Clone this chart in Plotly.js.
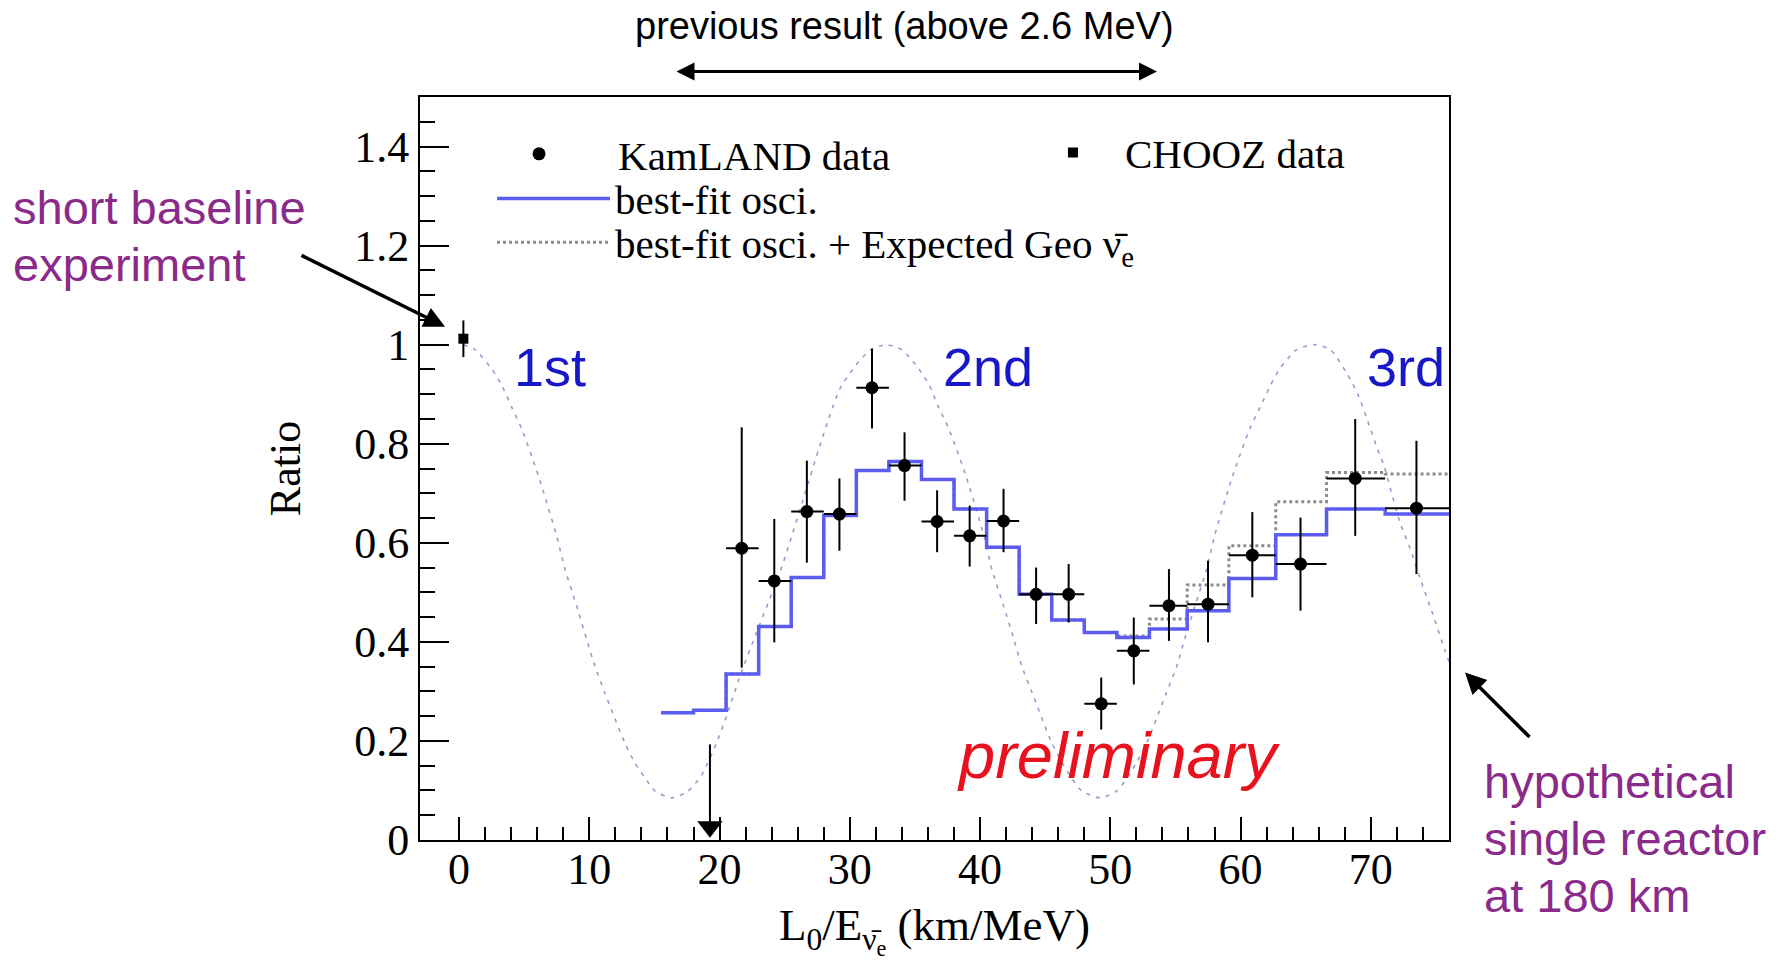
<!DOCTYPE html>
<html>
<head>
<meta charset="utf-8">
<script src="https://cdn.plot.ly/plotly-3.0.1.min.js"></script>
<style>html,body{margin:0;padding:0;background:#fff;}#chart{width:1788px;height:966px;}</style>
</head>
<body>
<div id="chart"></div>
<script>
// ---- data ----
// step-histogram bin edges (L0/E, km/MeV)
var histEdges = [15.5, 18.0, 20.5, 23.0, 25.5, 28.0, 30.5, 33.0, 35.5, 38.0, 40.5, 43.0, 45.5, 48.0, 50.5, 53.0, 55.9, 59.1, 62.7, 66.6, 71.1, 77.0];
// best-fit oscillation expectation per bin
var bestFit = [0.257, 0.262, 0.335, 0.431, 0.530, 0.655, 0.746, 0.764, 0.728, 0.668, 0.591, 0.496, 0.444, 0.419, 0.409, 0.426, 0.463, 0.528, 0.616, 0.668, 0.658];
// best-fit + expected geo-neutrinos per bin
var bestFitGeo = [0.257, 0.262, 0.335, 0.431, 0.530, 0.655, 0.746, 0.764, 0.728, 0.668, 0.591, 0.496, 0.444, 0.419, 0.412, 0.446, 0.515, 0.594, 0.683, 0.742, 0.739];

// KamLAND data points
var klX = [21.7, 24.2, 26.7, 29.2, 31.7, 34.2, 36.7, 39.2, 41.8, 44.3, 46.8, 49.3, 51.8, 54.5, 57.5, 60.9, 64.6, 68.8, 73.5];
var klY = [0.589, 0.523, 0.663, 0.658, 0.913, 0.756, 0.643, 0.614, 0.644, 0.496, 0.496, 0.275, 0.382, 0.473, 0.476, 0.575, 0.557, 0.730, 0.670];
var klErrUp = [0.244, 0.125, 0.103, 0.072, 0.079, 0.067, 0.063, 0.061, 0.065, 0.054, 0.061, 0.053, 0.067, 0.074, 0.088, 0.087, 0.094, 0.120, 0.136];
var klErrDown = [0.241, 0.124, 0.103, 0.074, 0.082, 0.071, 0.062, 0.062, 0.063, 0.060, 0.057, 0.052, 0.068, 0.071, 0.077, 0.085, 0.094, 0.116, 0.133];
var klFirstBin = 2; // first KamLAND point sits in histogram bin index 2

// upper-limit bin
var ulX = [19.26];
var ulTop = [0.193];

// CHOOZ
var chX = [0.33];
var chY = [1.012];
var chErr = [0.037];

// hypothetical single reactor at 180 km
var oscX = [0.33, 1.23, 2.51, 3.27, 4.04, 4.81, 6.08, 7.49, 8.13, 9.02, 9.79, 10.43, 11.19, 12.73, 13.49, 14.26, 15.03, 16.3,
            17.5, 18.6, 19.77, 20.6, 21.56, 22.84, 24.63, 25.5, 26.42, 27.7, 28.5, 29.23, 30.5, 31.6, 32.8,
            34.0, 35.3, 36.1, 36.8, 37.6, 38.9, 40.3, 40.9, 41.8, 42.6, 43.2, 44.0, 45.5, 46.3, 47.0, 47.8, 49.2,
            50.5, 51.3, 52.0, 52.8, 54.3, 55.1, 55.7, 56.5, 57.4, 58.0, 59.4, 60.7, 61.5, 62.3, 63.0, 64.3, 65.7,
            66.9, 68.2, 69.0, 69.7, 70.5, 71.0, 72.25, 73.0, 73.8, 74.7, 75.7, 76.0];
var oscY = [1.000, 0.990, 0.951, 0.918, 0.874, 0.830, 0.736, 0.614, 0.547, 0.473, 0.405, 0.351, 0.297, 0.196, 0.156, 0.126, 0.099, 0.085,
            0.097, 0.130, 0.196, 0.255, 0.331, 0.419, 0.540, 0.610, 0.688, 0.796, 0.860, 0.911, 0.960, 0.990, 1.000,
            0.990, 0.951, 0.918, 0.874, 0.830, 0.736, 0.614, 0.547, 0.473, 0.405, 0.351, 0.297, 0.196, 0.156, 0.126, 0.099, 0.085,
            0.099, 0.126, 0.156, 0.196, 0.297, 0.351, 0.405, 0.473, 0.547, 0.614, 0.736, 0.830, 0.874, 0.918, 0.951, 0.990, 1.000,
            0.990, 0.940, 0.900, 0.850, 0.790, 0.756, 0.640, 0.590, 0.527, 0.460, 0.382, 0.360];

var xTickVals = [0, 10, 20, 30, 40, 50, 60, 70];
var yTickVals = [0, 0.2, 0.4, 0.6, 0.8, 1.0, 1.2, 1.4];

// ---- build traces ----
function stepY(vals) { return vals.concat([vals[vals.length - 1]]); }

var klErrXPlus = [], klErrXMinus = [];
for (var i = 0; i < klX.length; i++) {
  klErrXMinus.push(klX[i] - histEdges[klFirstBin + i]);
  klErrXPlus.push(histEdges[klFirstBin + i + 1] - klX[i]);
}

var serif = 'Liberation Serif, Times New Roman, serif';
var sans = 'Liberation Sans, Arial, sans-serif';
var purple = '#8a2a8a';
var blueTxt = '#1818c8';
var ulArrowY = 0.027;

var traces = [
  {
    x: oscX, y: oscY, type: 'scatter', mode: 'lines',
    line: {color: '#9a9ad2', width: 1.6, dash: '4px,6px', shape: 'spline', smoothing: 0.6},
    showlegend: false, hoverinfo: 'skip'
  },
  {
    x: histEdges, y: stepY(bestFitGeo), type: 'scatter', mode: 'lines',
    name: 'best-fit osci. + Expected Geo ν̄<sub>e</sub>',
    line: {color: '#8c8c8c', width: 3, dash: 'dot', shape: 'hv'},
    legend: 'legend4'
  },
  {
    x: histEdges, y: stepY(bestFit), type: 'scatter', mode: 'lines',
    name: 'best-fit osci.',
    line: {color: '#5c5cf0', width: 3.5, shape: 'hv'},
    legend: 'legend3'
  },
  {
    x: klX, y: klY, type: 'scatter', mode: 'markers',
    name: 'KamLAND data',
    marker: {symbol: 'circle', size: 13, color: '#000'},
    error_y: {type: 'data', symmetric: false, array: klErrUp, arrayminus: klErrDown, color: '#000', thickness: 2, width: 0},
    error_x: {type: 'data', symmetric: false, array: klErrXPlus, arrayminus: klErrXMinus, color: '#000', thickness: 2, width: 0},
    legend: 'legend'
  },
  {
    x: ulX, y: [ulArrowY], type: 'scatter', mode: 'markers',
    marker: {symbol: 'triangle-down', size: 22, color: '#000'},
    error_y: {type: 'data', symmetric: false, array: [ulTop[0] - ulArrowY], arrayminus: [0], color: '#000', thickness: 2, width: 0},
    showlegend: false, cliponaxis: false
  },
  {
    x: chX, y: chY, type: 'scatter', mode: 'markers',
    name: 'CHOOZ data',
    marker: {symbol: 'square', size: 10, color: '#000'},
    error_y: {type: 'data', array: chErr, color: '#000', thickness: 2, width: 0},
    legend: 'legend2'
  }
];

var minorX = [];
for (var v = 2; v <= 74; v += 2) { if (v % 10 !== 0) minorX.push(v); }
var minorY = [];
for (var k = 1; k <= 29; k++) { if (k % 4 !== 0) minorY.push(+(k * 0.05).toFixed(2)); }

var legFont = {family: serif, size: 41, color: '#000'};
function leg(x, y, w) {
  return {x: x, y: y, xanchor: 'left', yanchor: 'middle', bgcolor: 'rgba(0,0,0,0)', borderwidth: 0,
          font: legFont, itemwidth: w, itemclick: false};
}
function txt(x, y, s, size, color) {
  return {xref: 'paper', yref: 'paper', x: x, y: y, xanchor: 'left', yanchor: 'middle', align: 'left',
          showarrow: false, text: s, font: {family: sans, size: size, color: color}};
}

var layout = {
  width: 1788, height: 966,
  margin: {l: 420, r: 339, t: 97, b: 126},
  paper_bgcolor: '#fff', plot_bgcolor: '#fff',
  xaxis: {
    range: [-3, 76], tickvals: xTickVals, ticks: 'inside', ticklen: 23, tickwidth: 2, tickcolor: '#000',
    minor: {tickvals: minorX, ticks: 'inside', ticklen: 13, tickwidth: 2, tickcolor: '#000', showgrid: false},
    showline: true, linewidth: 2, linecolor: '#000', mirror: true, showgrid: false, zeroline: false,
    ticklabelstandoff: -11,
    tickfont: {family: serif, size: 44, color: '#000'},
    title: {text: 'L<sub>0</sub>/E<sub>ν̄<sub>e</sub></sub> (km/MeV)', font: {family: serif, size: 45, color: '#000'}, standoff: 16}
  },
  yaxis: {
    range: [0, 1.5], tickvals: yTickVals, ticks: 'inside', ticklen: 29, tickwidth: 2, tickcolor: '#000',
    minor: {tickvals: minorY, ticks: 'inside', ticklen: 15, tickwidth: 2, tickcolor: '#000', showgrid: false},
    showline: true, linewidth: 2, linecolor: '#000', mirror: true, showgrid: false, zeroline: false,
    tickfont: {family: serif, size: 44, color: '#000'},
    title: {text: 'Ratio', font: {family: serif, size: 44, color: '#000'}, standoff: 40}
  },
  showlegend: true,
  legend: leg(0.0389, 0.923, 148),
  legend2: leg(0.584, 0.925, 94),
  legend3: leg(0.070, 0.863, 113),
  legend4: leg(0.070, 0.804, 113),
  annotations: [
    {xref: 'paper', yref: 'paper', x: 0.471, y: 1.095, xanchor: 'center', yanchor: 'middle', showarrow: false,
     text: 'previous result (above 2.6 MeV)', font: {family: sans, size: 38, color: '#000'}},
    {xref: 'paper', yref: 'paper', x: 0.7162, y: 1.0342, ax: -482, ay: 0, axref: 'pixel', ayref: 'pixel', text: '',
     showarrow: true, arrowside: 'end+start', arrowhead: 2, arrowsize: 1.2, arrowwidth: 3, arrowcolor: '#000'},
    txt(-0.397, 0.8518, 'short baseline', 47, purple),
    txt(-0.397, 0.7751, 'experiment', 47, purple),
    {xref: 'paper', yref: 'paper', x: 0.0243, y: 0.6909, ax: -145, ay: -72, text: '', showarrow: true,
     arrowhead: 2, arrowsize: 1.2, arrowwidth: 3.5, arrowcolor: '#000'},
    txt(1.032, 0.0786, 'hypothetical', 47, purple),
    txt(1.032, 0.0019, 'single reactor', 47, purple),
    txt(1.032, -0.0746, 'at 180 km', 47, purple),
    {xref: 'paper', yref: 'paper', x: 1.0156, y: 0.2253, ax: 66, ay: 66, text: '', showarrow: true,
     arrowhead: 2, arrowsize: 1.2, arrowwidth: 3.5, arrowcolor: '#000'},
    {xref: 'x', yref: 'y', x: 7.0, y: 0.955, xanchor: 'center', yanchor: 'middle', showarrow: false,
     text: '1st', font: {family: sans, size: 54, color: blueTxt}},
    {xref: 'x', yref: 'y', x: 40.6, y: 0.955, xanchor: 'center', yanchor: 'middle', showarrow: false,
     text: '2nd', font: {family: sans, size: 54, color: blueTxt}},
    {xref: 'x', yref: 'y', x: 72.7, y: 0.955, xanchor: 'center', yanchor: 'middle', showarrow: false,
     text: '3rd', font: {family: sans, size: 54, color: blueTxt}},
    {xref: 'x', yref: 'y', x: 50.6, y: 0.17, xanchor: 'center', yanchor: 'middle', showarrow: false,
     text: '<i>preliminary</i>', font: {family: sans, size: 65, color: '#e8121e'}}
  ]
};

Plotly.newPlot('chart', traces, layout, {staticPlot: true, displayModeBar: false});
</script>
</body>
</html>
